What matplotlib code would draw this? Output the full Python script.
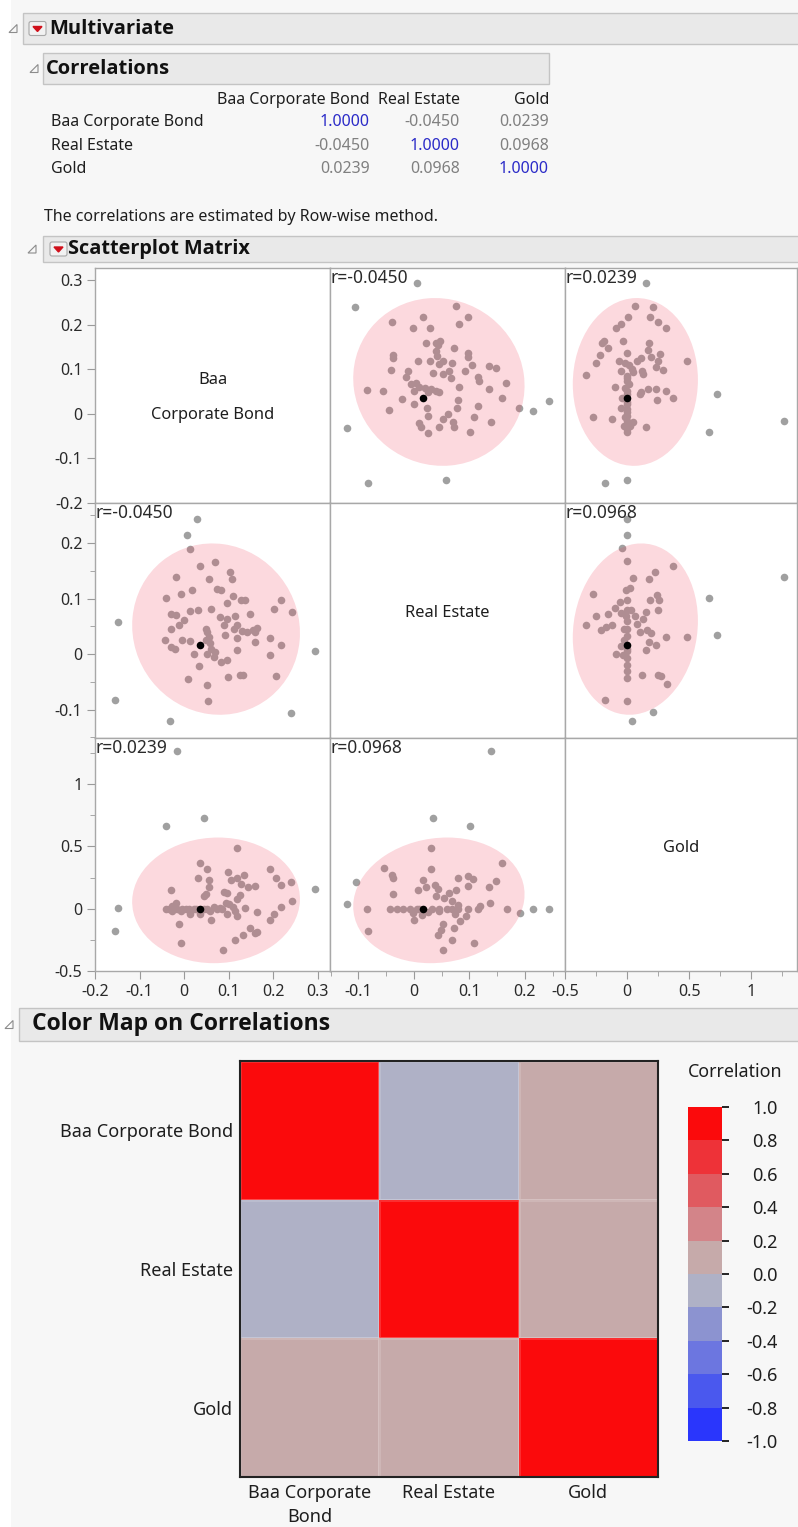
import numpy as np
import matplotlib.pyplot as plt
from matplotlib.patches import Ellipse, Rectangle, Polygon, FancyBboxPatch
from matplotlib.colors import ListedColormap, BoundaryNorm

plt.rcParams['font.family'] = ['Noto Sans', 'DejaVu Sans']
plt.rcParams['axes.unicode_minus'] = False

names = ['Baa Corporate Bond', 'Real Estate', 'Gold']
corr = np.array([[1.0, -0.0450, 0.0239],
                 [-0.0450, 1.0, 0.0968],
                 [0.0239, 0.0968, 1.0]])

# column means / std devs for the 95% density ellipses
means = [0.072, 0.045, 0.067]
sds = [0.077, 0.063, 0.206]

# axis range and ticks per variable
lims = [(-0.2, 0.328), (-0.151, 0.272), (-0.5, 1.37)]
major = [[-0.2, -0.1, 0, 0.1, 0.2, 0.3], [-0.1, 0, 0.1, 0.2], [-0.5, 0, 0.5, 1]]
minor = [[], [-0.15, -0.05, 0.05, 0.15, 0.25], [-0.25, 0.25, 0.75, 1.25]]

# Baa Corporate Bond vs Real Estate
br_baa = [0.294, 0.240, -0.031, -0.154, -0.149, 0.013, 0.007, 0.029,
          0.243, 0.218, 0.218, 0.207, 0.202, 0.194, 0.193, 0.159, 0.159, 0.165, 0.154, 0.148,
          0.141, 0.131, 0.133, 0.126, 0.137, 0.127, 0.118, 0.118, 0.112, 0.118,
          0.115, 0.098, 0.110, 0.107, 0.103, 0.097, 0.096, 0.083, 0.091, 0.089,
          0.096, 0.080, 0.084, 0.073, 0.070, 0.067, 0.070, 0.061, 0.058, 0.056,
          0.052, 0.049, 0.050, 0.052, 0.060, 0.057, 0.054, 0.052, 0.034, 0.032,
          0.035, 0.022, 0.019, 0.009, 0.013, 0.013, -0.004, 0.001, -0.011, -0.006,
          -0.017, -0.020, -0.030, -0.042, -0.029, -0.017, -0.030, -0.040]
br_re = [0.005, -0.106, -0.121, -0.083, 0.057, 0.190, 0.214, 0.243,
         0.075, 0.017, 0.097, -0.039, 0.082, -0.002, 0.029, 0.021, 0.040, 0.047, 0.044, 0.072,
         0.040, 0.041, -0.038, -0.038, 0.098, 0.098, 0.008, 0.029, 0.046, 0.053,
         0.068, -0.041, 0.105, 0.136, 0.147, 0.092, -0.010, -0.014, 0.034, 0.052,
         0.063, 0.066, 0.115, 0.118, 0.166, -0.005, 0.004, 0.010, 0.020, 0.031,
         0.040, 0.046, 0.025, 0.001, 0.082, 0.135, -0.085, -0.055, -0.021, 0.079,
         0.158, 0.001, 0.116, -0.044, 0.023, 0.077, 0.026, 0.061, 0.052, 0.108,
         0.138, 0.010, 0.013, 0.025, 0.046, 0.070, 0.073, 0.101]

# Baa Corporate Bond vs Gold
bg_baa = [0.294, 0.046, -0.016, -0.040, -0.154, -0.149,
          0.243, 0.240, 0.218, 0.218, 0.202, 0.207, 0.194, 0.193, 0.165, 0.159,
          0.164, 0.148, 0.160, 0.144, 0.138, 0.132, 0.115, 0.125, 0.118, 0.127,
          0.134, 0.120, 0.118, 0.118, 0.114, 0.109, 0.102, 0.097, 0.094, 0.105,
          0.098, 0.097, 0.090, 0.088, 0.086, 0.075, 0.067, 0.060, 0.058, 0.050,
          0.045, 0.056, 0.056, 0.052, 0.035, 0.032, 0.037, 0.022, 0.013, 0.012,
          -0.006, -0.011, -0.006, -0.015, -0.017, -0.028, -0.028, -0.030, -0.041, 0.004,
          0.052, 0.028, -0.005, -0.025, -0.034, 0.080, 0.045]
bg_gold = [0.156, 0.728, 1.266, 0.661, -0.177, 0.003,
           0.062, 0.212, 0.011, 0.188, -0.046, 0.250, -0.089, 0.317, -0.183, -0.199,
           -0.030, -0.153, 0.180, 0.172, 0.003, -0.215, -0.250, 0.113, 0.081, 0.196,
           0.269, 0.250, 0.487, -0.062, -0.016, 0.013, 0.038, -0.046, 0.046, 0.234,
           0.293, 0.124, 0.132, -0.328, -0.003, -0.003, 0.013, -0.094, -0.016, 0.116,
           0.102, 0.172, 0.231, 0.317, 0.368, 0.245, -0.043, 0.0, -0.046, 0.0,
           -0.277, -0.124, -0.016, 0.0, 0.046, -0.022, 0.022, 0.151, 0.0, 0.0,
           0.0, 0.0, 0.0, 0.0, 0.0, 0.003, 0.0]

# Real Estate vs Gold
rg_re = [0.244, 0.214, 0.191, 0.138, 0.101, 0.035, -0.104, -0.120,
         0.167, 0.158, 0.148, 0.137, 0.136, 0.119, 0.116, 0.109, 0.106, 0.098,
         0.097, 0.098, 0.094, 0.083, 0.080, 0.079, 0.073, 0.068, 0.074, 0.068,
         0.076, 0.068, 0.064, 0.053, 0.049, 0.043, 0.052, 0.059, 0.055, 0.046,
         0.040, 0.043, 0.038, 0.031, 0.031, 0.032, 0.025, 0.022, 0.017, 0.014,
         0.001, -0.002, -0.007, -0.020, 0.007, -0.038, -0.037, -0.040, -0.053, -0.043,
         -0.082, -0.084, 0.080, 0.045, 0.005, -0.030, 0.010]
rg_gold = [0.0, 0.0, -0.038, 1.266, 0.661, 0.728, 0.212, 0.040,
           0.0, 0.368, 0.226, 0.046, 0.177, 0.024, -0.005, -0.277, 0.239, 0.185,
           0.261, 0.0, -0.059, -0.099, 0.247, 0.032, -0.153, -0.253, -0.046, -0.005,
           0.153, 0.062, 0.129, -0.124, -0.169, -0.210, -0.328, 0.0, 0.083, -0.022,
           0.105, 0.161, 0.194, 0.315, 0.487, 0.0, -0.027, 0.177, 0.234, -0.048,
           -0.089, -0.035, 0.0, 0.0, 0.153, 0.118, 0.247, 0.274, 0.323, 0.0,
           -0.177, 0.0, 0.0, 0.0, 0.0, 0.0, 0.0]

# highlighted row (Baa, Real Estate, Gold)
sel_row = [0.036, 0.016, 0.0]

pairs = {(0, 1): (br_baa, br_re), (0, 2): (bg_baa, bg_gold), (1, 2): (rg_re, rg_gold)}

# colour bands for the correlation map, from -1 to 1
band_colors = ['#2a36fc', '#4a58ee', '#6c76e0', '#8c93d0', '#afb1c6',
               '#c6aaaa', '#d38489', '#e05a60', '#ee3238', '#fb0a0c']
cb_ticks = [-1.0, -0.8, -0.6, -0.4, -0.2, 0.0, 0.2, 0.4, 0.6, 0.8, 1.0]

W, H = 798, 1527
fig = plt.figure(figsize=(W / 100, H / 100), dpi=100)
fig.patch.set_facecolor('#f7f7f7')


def box(x0, y0, x1, y1):
    return [x0 / W, 1 - y1 / H, (x1 - x0) / W, (y1 - y0) / H]


bg = fig.add_axes([0, 0, 1, 1])
bg.set_xlim(0, W)
bg.set_ylim(H, 0)
bg.axis('off')
bg.add_patch(Rectangle((0, 0), 11, H, color='white', lw=0))

TXT = '#1e1e1e'
BOLD = ['Open Sans', 'Liberation Sans', 'DejaVu Sans']


def header(x0, y0, x1, y1, text, tx, size, tri_x, button_x=None):
    bg.add_patch(Rectangle((x0, y0), x1 - x0, y1 - y0, facecolor='#e9e9e9',
                           edgecolor='#c4c4c4', lw=1))
    cy = (y0 + y1) / 2
    bg.add_patch(Polygon([(tri_x - 4, cy + 4), (tri_x + 4, cy + 4), (tri_x + 4, cy - 4)],
                         closed=True, fill=False, edgecolor='#8c8c8c', lw=0.8))
    if button_x is not None:
        bg.add_patch(FancyBboxPatch((button_x, cy - 7), 17, 14,
                                    boxstyle='round,pad=0,rounding_size=2',
                                    facecolor='#f2f2f2', edgecolor='#a8a8a8', lw=0.8))
        bg.add_patch(Polygon([(button_x + 4, cy - 2), (button_x + 13, cy - 2),
                              (button_x + 8.5, cy + 3)], color='#d0101b'))
    bg.text(tx, cy, text, fontsize=size, fontweight='bold', family=BOLD,
            va='center', ha='left', color='#111')


header(23, 13, W + 2, 44, 'Multivariate', 49, 14.5, 13, 29)
header(43, 53, 549, 84, 'Correlations', 46, 14.5, 34)
header(43, 236, W + 2, 262, 'Scatterplot Matrix', 68, 14.3, 32, 50)
header(19, 1008, W + 2, 1041, 'Color Map on Correlations', 32, 16.5, 9)

# correlation table
col_right = [370, 460, 549]
row_y = [122, 146, 169]
for k, name in enumerate(names):
    bg.text(col_right[k], 100, name, ha='right', va='center', fontsize=11.5, color=TXT)
    bg.text(51, row_y[k], name, ha='left', va='center', fontsize=11.5, color=TXT)
    for j in range(3):
        c = '#2b2bc8' if j == k else '#808080'
        bg.text(col_right[j], row_y[k], f'{corr[k, j]:.4f}', ha='right', va='center',
                fontsize=11.5, color=c)
bg.text(44, 217, 'The correlations are estimated by Row-wise method.', ha='left',
        va='center', fontsize=11.5, color=TXT)

# scatterplot matrix
col_edges = [95, 330, 565, 797]
row_edges = [268, 503, 738, 971]
chi = np.sqrt(-2 * np.log(0.05))
diag_text = {0: [('Baa', 380), ('Corporate Bond', 415)], 1: [('Real Estate', 613)],
             2: [('Gold', 848)]}


def pair(a, b):
    if (a, b) in pairs:
        return pairs[(a, b)]
    q = pairs[(b, a)]
    return q[1], q[0]


def fmt(v):
    return f'{v:g}'


for i in range(3):
    for j in range(3):
        x0, x1 = col_edges[j], col_edges[j + 1]
        y0, y1 = row_edges[i], row_edges[i + 1]
        ax = fig.add_axes(box(x0, y0, x1, y1))
        ax.set_facecolor('white')
        ax.set_xlim(lims[j])
        ax.set_ylim(lims[i])
        for s in ax.spines.values():
            s.set_color('#a8a8a8')
            s.set_linewidth(1)
        ax.tick_params(which='both', color='#9a9a9a', labelcolor='#2a2a2a', labelsize=11.5)
        ax.tick_params(which='major', length=6, pad=3)
        ax.tick_params(which='minor', length=3.5)
        if j == 0:
            ax.set_yticks(major[i])
            ax.set_yticklabels([fmt(v) for v in major[i]])
            ax.set_yticks(minor[i], minor=True)
        else:
            ax.set_yticks([])
        if i == 2:
            ax.set_xticks(major[j])
            ax.set_xticklabels([fmt(v) for v in major[j]])
            ax.set_xticks(minor[j], minor=True)
        else:
            ax.set_xticks([])

        if i == j:
            for label, py in diag_text[i]:
                ax.text(0.5, 1 - (py - y0) / (y1 - y0), label, transform=ax.transAxes,
                        ha='center', va='center', fontsize=11.8, color=TXT)
            continue

        xs, ys = pair(j, i)
        ax.scatter(xs, ys, s=30, color='#a0a0a0', lw=0, zorder=2)
        cov = np.array([[sds[j] ** 2, corr[i, j] * sds[i] * sds[j]],
                        [corr[i, j] * sds[i] * sds[j], sds[i] ** 2]])
        vals, vecs = np.linalg.eigh(cov)
        ang = np.degrees(np.arctan2(vecs[1, 1], vecs[0, 1]))
        ax.add_patch(Ellipse((means[j], means[i]), 2 * chi * np.sqrt(vals[1]),
                             2 * chi * np.sqrt(vals[0]), angle=ang,
                             facecolor=(240 / 255, 65 / 255, 90 / 255, 0.2), lw=0, zorder=3))
        ax.scatter([sel_row[j]], [sel_row[i]], s=30, color='black', lw=0, zorder=4)
        ax.text(0.002, 0.997, f'r={corr[i, j]:.4f}', transform=ax.transAxes, ha='left',
                va='top', fontsize=12.5, color='#2a2a2a', zorder=5)

# colour map on correlations
cmap = ListedColormap(band_colors)
cmap.set_over(band_colors[-1])
cmap.set_under(band_colors[0])
norm = BoundaryNorm(cb_ticks, cmap.N)

hax = fig.add_axes(box(240, 1061, 658, 1477))
mesh = hax.pcolormesh(corr, cmap=cmap, norm=norm, edgecolors=(1, 1, 1, 0.15), linewidth=0.8)
hax.set_xlim(0, 3)
hax.set_ylim(3, 0)
hax.set_xticks([0.5, 1.5, 2.5])
hax.set_xticklabels(['Baa Corporate\nBond', 'Real Estate', 'Gold'], fontsize=13,
                    color=TXT, linespacing=1.45)
hax.set_yticks([0.5, 1.5, 2.5])
hax.set_yticklabels(names, fontsize=13, color=TXT)
hax.tick_params(length=0, pad=5)
for s in hax.spines.values():
    s.set_color('#222222')
    s.set_linewidth(1.5)

cax = fig.add_axes(box(688, 1107, 722, 1441))
cb = fig.colorbar(mesh, cax=cax, ticks=cb_ticks, format='%.1f')
cb.outline.set_visible(False)
cax.tick_params(length=5, width=1.2, labelsize=13, labelcolor=TXT, pad=35)
for t in cax.get_yticklabels():
    t.set_horizontalalignment('right')
# tick marks take the colour of the band next to them
for v, tick in zip(cb_ticks, cax.yaxis.get_major_ticks()):
    if v == 0:
        tc = '#c8c8c8'
    else:
        tc = cmap(norm(v - 0.01 if v > 0 else v + 0.01))
    tick.tick2line.set_color(tc)
bg.text(735, 1072, 'Correlation', ha='center', va='center', fontsize=12.8, color=TXT)

fig.savefig('out.png', dpi=100, facecolor=fig.get_facecolor())
